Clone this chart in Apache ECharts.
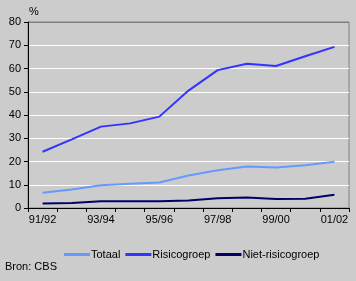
<!DOCTYPE html>
<html><head><meta charset="utf-8">
<script src="https://cdn.jsdelivr.net/npm/echarts@6/dist/echarts.min.js"></script>
<style>html,body{margin:0;padding:0;background:#cccccc;}#c{width:356px;height:281px;}</style>
</head><body><div id="c"></div>
<script>
var categories = ['91/92','92/93','93/94','94/95','95/96','96/97','97/98','98/99','99/00','00/01','01/02'];
var totaal = [6.6, 8.0, 9.8, 10.4, 11.0, 14.0, 16.2, 17.8, 17.4, 18.4, 19.9];
var risicogroep = [24.2, 29.5, 35.0, 36.4, 39.3, 50.5, 59.3, 62.0, 61.1, 65.3, 69.3];
var nietRisicogroep = [1.9, 2.1, 2.9, 2.9, 2.9, 3.2, 4.2, 4.5, 3.9, 4.0, 5.7];
var seriesNames = ['Totaal','Risicogroep','Niet-risicogroep'];
var colors = ['#6699ff','#3333ff','#000066'];

var font = 'Arial, "Liberation Sans", sans-serif';
var chart = echarts.init(document.getElementById('c'), null, {renderer:'canvas'});
function mk(name, data, color){
  return {name:name, type:'line', data:data, symbol:'none', smooth:false,
    lineStyle:{color:color, width:2}, itemStyle:{color:color}, animation:false};
}
chart.setOption({
  backgroundColor:'#cccccc',
  animation:false,
  textStyle:{fontFamily:font, fontSize:11, color:'#000'},
  grid:{left:28, right:7, top:22, bottom:73, containLabel:false, show:true, borderColor:'#808080', borderWidth:1, backgroundColor:'transparent'},
  legend:{data:seriesNames.map(function(n,i){return {name:n, icon:'rect'};}), left:59, top:244, itemWidth:26, itemHeight:3, itemGap:5,
    textStyle:{fontFamily:font, fontSize:11, color:'#000', padding:[0,0,0,-4]}},
  graphic:[
    {type:'text', left:29, top:6, style:{text:'%', font:'11px '+font, fill:'#000'}},
    {type:'text', left:5, top:261, style:{text:'Bron: CBS', font:'11px '+font, fill:'#000'}}
  ],
  xAxis:{type:'category', data:categories, boundaryGap:true,
    axisLine:{lineStyle:{color:'#000', width:1}},
    axisTick:{show:true, interval:0, length:4, lineStyle:{color:'#000'}},
    axisLabel:{interval:1, color:'#000', fontFamily:font, fontSize:11, margin:6},
    splitLine:{show:false}},
  yAxis:{type:'value', min:0, max:80, interval:10,
    axisLine:{show:true, lineStyle:{color:'#000', width:1}},
    axisTick:{show:true, length:4, lineStyle:{color:'#000'}},
    axisLabel:{color:'#000', fontFamily:font, fontSize:11, margin:7},
    splitLine:{show:true, lineStyle:{color:['#000','#fff','#fff','#fff','#fff','#fff','#fff','#fff','#808080'], width:1}}},
  series:[mk(seriesNames[0], totaal, colors[0]), mk(seriesNames[1], risicogroep, colors[1]), mk(seriesNames[2], nietRisicogroep, colors[2])]
});
</script></body></html>
